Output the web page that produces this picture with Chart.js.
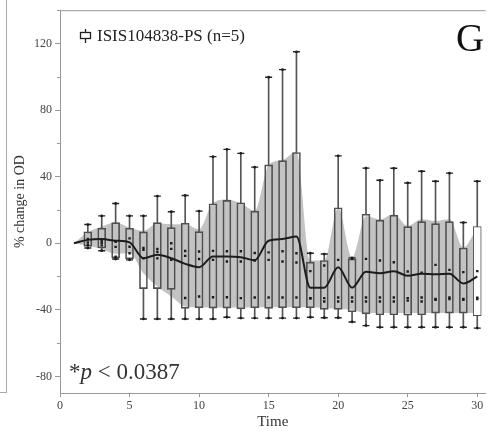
<!DOCTYPE html>
<html>
<head>
<meta charset="utf-8">
<script src="https://cdn.jsdelivr.net/npm/chart.js@4/dist/chart.umd.min.js"></script>
<style>
  html, body { margin: 0; padding: 0; background: #fff; }
  #wrap { position: relative; width: 491px; height: 437px; overflow: hidden; font-family: "Liberation Serif", "Times New Roman", serif; }
  #c { position: absolute; left: 0; top: 0; }
  .neighbour { position: absolute; left: -10px; top: -2px; width: 16px; height: 394px; border-right: 1px solid #aaa; border-bottom: 1px solid #aaa; }
  .legend { position: absolute; left: 79px; top: 26px; font-size: 17px; color: #222; white-space: nowrap; display: flex; align-items: center; }
  .legend svg { margin-right: 5px; }
  .panel { position: absolute; left: 456px; top: 18px; font-size: 39px; color: #111; line-height: 1; }
  .pval { position: absolute; left: 69px; top: 360px; font-size: 23px; color: #333; white-space: nowrap; line-height: 1; }
</style>
</head>
<body>
<div id="wrap">
  <div class="neighbour"></div>
  <canvas id="c" width="491" height="437"></canvas>
  <div class="legend">
    <svg width="13" height="14" viewBox="0 0 13 14"><line x1="6.5" y1="0" x2="6.5" y2="14" stroke="#222" stroke-width="1.3"/><rect x="1.5" y="3.5" width="10" height="6" fill="#fff" stroke="#222" stroke-width="1.3"/></svg>
    <span>ISIS104838-PS (n=5)</span>
  </div>
  <div class="panel">G</div>
  <div class="pval">*<i>p</i> &lt; 0.0387</div>
</div>
<script>
// Time points (days)
const days = [1, 2, 3, 4, 5, 6, 7, 8, 9, 10, 11, 12, 13, 14, 15, 16, 17, 18, 19, 20, 21, 22, 23, 24, 25, 26, 27, 28, 29, 30];

// Box plot statistics, % change in OD
const whiskerLow  = [null, -2.9, -4.5, -9.5, -10, -45.5, -45.5, -45.5, -45.5, -45.5, -45.5, -44.5, -45, -45, -45, -45, -45, -44.5, -44.8, -44.8, -47.3, -49.5, -50.5, -50.5, -50.5, -50.5, -50.5, -50.5, -50.5, -51];
const boxLow      = [null, -1.9, -2.9, -8.8, -9.4, -27.3, -27.3, -27.7, -39.2, -38.8, -39, -39, -39.5, -38.8, -39.2, -38.8, -38.8, -38.8, -39.8, -39.8, -41.2, -42.5, -43, -43, -43.2, -43, -42, -42, -42, -43.5];
const boxHigh     = [null, 6.8, 9, 12.4, 9, 6.8, 12.4, 9.4, 12, 7, 23.7, 25.7, 24.3, 19.3, 47.1, 49.6, 54.5, -11.4, -10.4, 21.3, -9.4, 17.4, 13.8, 16.8, 10, 13, 11.8, 13, -2.9, 10];
const whiskerHigh = [null, 11.2, 16.4, 23.9, 16.4, 16.4, 28.3, 18.9, 28.7, 19.3, 52, 56.4, 54, 45.7, 99.7, 104.3, 115, -6, -6.5, 52.5, -8.8, 45.1, 37.8, 45, 36.2, 43.2, 37.2, 42.1, 12.4, 37.2];

// Mean response
const meanLine = [0, 2.0, 2.5, 1.5, 0.5, -9, -7, -9, -12.4, -14.4, -8, -8, -8.4, -10.2, 1.5, 2.5, 4, -26.7, -26.7, -14.4, -26.7, -17.2, -18, -16.8, -19.6, -18.4, -18.6, -18.4, -24.2, -20];

// Individual observations between the whisker ends
const obsA = [null, 2.5, 1.6, 0.9, 2.9, -2.8, -3.5, 0, -4.7, -5, -4.6, -4.8, -4.8, -5.9, -5.5, -4.8, -6, -16.8, -13.4, -10, -9.4, -9.4, -10.4, -11.4, -17, -17.7, -13, -16, -17.4, -16.8];
const obsB = [null, 0.5, 0.3, -2.2, -2.1, -4, -5.2, -3.4, -7.6, -9.5, -10, -11, -11, -10.4, -10, -11, -11.6, -33.1, -33, -32.6, -32.6, -32.6, -32.6, -32.6, -33, -32.6, -33.5, -32.6, -33.5, -32.8];
const obsC = [null, -0.9, -1.3, -8.1, -6, -9.1, -9.1, -10, -32.9, -32, -32.5, -32.5, -33, -32.6, -32.6, -32.6, -32.6, -33.1, -35, -35, -35, -35, -35, -35, -34.5, -35, -34, -33.5, -34, -33.5];

// Shaded envelope
const bandHigh = [0, 6.4, 10, 12.4, 9.4, 7.4, 12, 11.4, 11.4, 8.4, 24.3, 26.3, 24, 19.5, 47, 50, 55, -10.4, -10.4, 21.3, -8.5, 16.4, 14.4, 17.4, 10.4, 14.4, 13.4, 14.4, -2.5, 9.4];
const bandLow  = [0, -1.5, -3.5, -6.4, -6, -18, -26, -32, -38, -38.6, -38.6, -38.6, -38.6, -38.6, -38.5, -38.5, -38.5, -38.5, -39, -39.5, -40, -42, -42, -42, -42, -42, -42, -42, -42, -42];

const xy = (arr) => days.map((d, i) => ({ x: d, y: arr[i] })).filter(p => p.y !== null);
const range = (lo, hi) => days.map((d, i) => ({ x: d, y: lo[i] === null ? null : [lo[i], hi[i]] })).filter(p => p.y !== null);

const capPoints = [...xy(whiskerLow), ...xy(whiskerHigh)];
const obsPoints = [...xy(obsA), ...xy(obsB), ...xy(obsC)];

const serif = "'Liberation Serif', 'Times New Roman', serif";

// Minor y ticks, plus the frame line along the top of the plot area
const framePlugin = {
  id: 'frame',
  afterDraw(chart) {
    const { ctx, chartArea, scales } = chart;
    ctx.save();
    ctx.strokeStyle = '#999';
    ctx.lineWidth = 1;
    ctx.beginPath();
    ctx.moveTo(chartArea.left, chartArea.top + 0.5);
    ctx.lineTo(chartArea.right, chartArea.top + 0.5);
    for (let v = -60; v <= 140; v += 40) {
      const y = Math.round(scales.y.getPixelForValue(v)) + 0.5;
      ctx.moveTo(chartArea.left - 3, y);
      ctx.lineTo(chartArea.left, y);
    }
    ctx.stroke();
    ctx.restore();
  }
};

new Chart(document.getElementById('c'), {
  type: 'bar',
  data: {
    datasets: [
      { type: 'line', data: xy(bandHigh), borderWidth: 0, pointRadius: 0, backgroundColor: '#c3c3c3', fill: '+1', cubicInterpolationMode: 'monotone', order: 20 },
      { type: 'line', data: xy(bandLow), borderWidth: 0, pointRadius: 0, fill: false, cubicInterpolationMode: 'monotone', order: 20 },
      { type: 'bar', data: range(boxHigh, whiskerHigh), grouped: false, barThickness: 1, backgroundColor: '#555', borderWidth: 0, order: 10 },
      { type: 'bar', data: range(whiskerLow, boxLow), grouped: false, barThickness: 1, backgroundColor: '#555', borderWidth: 0, order: 10 },
      { type: 'bar', data: range(boxLow, boxHigh), grouped: false, barThickness: 8,
        backgroundColor: days.slice(1).map(d => d === 30 ? '#fff' : 'rgba(0,0,0,0)'),
        borderColor: '#505050', borderWidth: 1, borderSkipped: false, order: 8 },
      { type: 'line', data: capPoints, showLine: false, pointStyle: 'line', pointRadius: 3.5, borderColor: '#222', borderWidth: 1.4, order: 6 },
      { type: 'line', data: capPoints, showLine: false, pointStyle: 'circle', pointRadius: 1.4, backgroundColor: '#111', borderWidth: 0, order: 6 },
      { type: 'line', data: obsPoints, showLine: false, pointStyle: 'rect', pointRadius: 1.7, backgroundColor: '#1a1a1a', borderWidth: 0, order: 5 },
      { type: 'line', data: xy(meanLine), borderColor: '#1c1c1c', borderWidth: 2, pointRadius: 0, fill: false, cubicInterpolationMode: 'monotone', order: 1 }
    ]
  },
  options: {
    responsive: false,
    animation: false,
    events: [],
    layout: { padding: { top: 8, right: 0, left: 0, bottom: 0 } },
    plugins: { legend: { display: false }, tooltip: { enabled: false } },
    scales: {
      x: {
        type: 'linear', min: 0, max: 30.6, offset: false,
        afterFit: (s) => { s.height = 44; },
        ticks: { stepSize: 5, includeBounds: false, padding: 2, color: '#444', font: { family: serif, size: 12 }, maxRotation: 0 },
        grid: { offset: false, drawOnChartArea: false, drawTicks: true, tickLength: 4, color: '#999' },
        border: { color: '#999' },
        title: { display: true, text: 'Time', color: '#333', font: { family: serif, size: 15 }, padding: { top: 0, bottom: 6 } }
      },
      y: {
        min: -90, max: 140,
        afterFit: (s) => { s.width = 60; },
        ticks: { stepSize: 40, includeBounds: false, padding: 3, color: '#444', font: { family: serif, size: 12 } },
        grid: { offset: false, drawOnChartArea: false, drawTicks: true, tickLength: 5, color: '#999' },
        border: { color: '#999' },
        title: { display: true, text: '% change in OD', color: '#333', font: { family: serif, size: 14 }, padding: { top: 12, bottom: 0 } }
      }
    }
  },
  plugins: [framePlugin]
});
</script>
</body>
</html>
